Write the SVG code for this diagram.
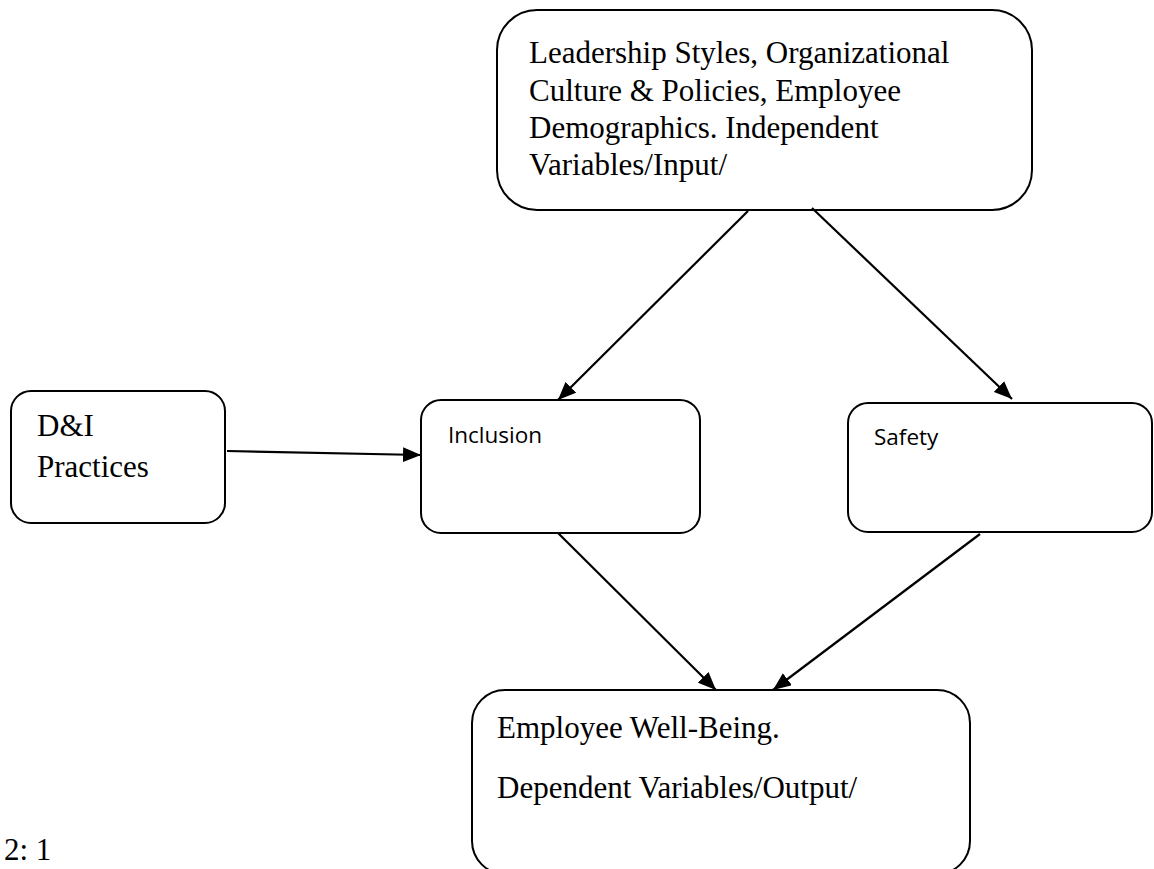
<svg xmlns="http://www.w3.org/2000/svg" width="1154" height="869" viewBox="0 0 1154 869">
<style>
.box{fill:#fff;stroke:#000;stroke-width:2}
.serif{font-family:"Liberation Serif","Times New Roman",serif;font-size:31px;fill:#000}
.sans{font-family:"Open Sans","Liberation Sans",sans-serif;font-size:22.5px;fill:#000}
.conn{stroke:#000;stroke-width:2.2;fill:none;marker-end:url(#ah)}
</style>
<defs>
<marker id="ah" markerUnits="userSpaceOnUse" markerWidth="19" markerHeight="15" refX="18" refY="7.5" orient="auto">
<path d="M0,0 L18,7.5 L0,15 z" fill="#000"/>
</marker>
</defs>
<rect width="1154" height="869" fill="#fff"/>
<g id="node-inputs">
<rect class="box" x="497" y="10" width="535" height="200" rx="40" ry="40"/>
<text class="serif" x="529" y="63">Leadership Styles, Organizational</text>
<text class="serif" x="529" y="101">Culture &amp; Policies, Employee</text>
<text class="serif" x="529" y="138">Demographics. Independent</text>
<text class="serif" x="529" y="175">Variables/Input/</text>
</g>
<g id="node-di">
<rect class="box" x="11" y="391" width="214" height="132" rx="20" ry="20"/>
<text class="serif" x="37" y="436">D&amp;I</text>
<text class="serif" x="37" y="477">Practices</text>
</g>
<g id="node-inclusion">
<rect class="box" x="421" y="400" width="279" height="133" rx="20" ry="20"/>
<text class="sans" x="448" y="443">Inclusion</text>
</g>
<g id="node-safety">
<rect class="box" x="848" y="403" width="304" height="129" rx="20" ry="20"/>
<text class="sans" x="874" y="445">Safety</text>
</g>
<g id="node-wellbeing">
<rect class="box" x="472" y="690" width="498" height="184" rx="33" ry="33"/>
<text class="serif" x="497" y="738">Employee Well-Being.</text>
<text class="serif" x="497" y="798">Dependent Variables/Output/</text>
</g>
<g id="label-fig">
<text class="serif" x="4" y="860">2: 1</text>
</g>
<g id="connectors">
<line class="conn" x1="748" y1="211" x2="558" y2="400"/>
<line class="conn" x1="812" y1="208" x2="1012" y2="399"/>
<line class="conn" x1="227" y1="451" x2="421" y2="455"/>
<line class="conn" x1="558" y1="533" x2="716" y2="690"/>
<line class="conn" x1="980" y1="534" x2="773" y2="690"/>
</g>
</svg>
